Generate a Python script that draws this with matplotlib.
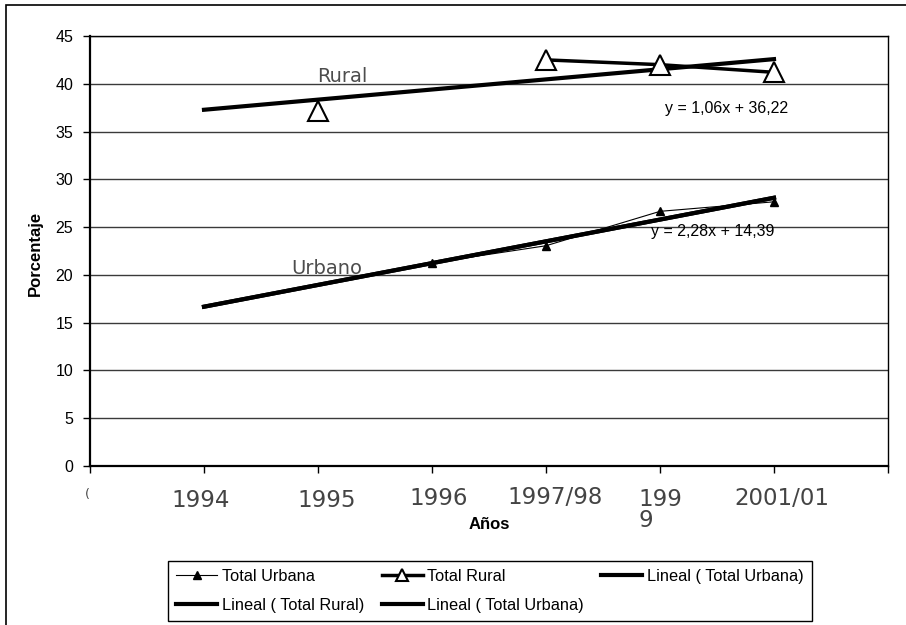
import numpy as np
import matplotlib.pyplot as plt
from matplotlib.patches import Rectangle
from matplotlib.transforms import ScaledTranslation

plt.rcParams['font.family'] = ['Liberation Sans', 'DejaVu Sans']

# data (category positions 1..6)
years = ['1994', '1995', '1996', '1997/98', '199\n9', '2001/01']
total_urbana = [np.nan, np.nan, 21.25, 23.05, 26.65, 27.65]
total_rural = [np.nan, 37.2, np.nan, 42.5, 42.0, 41.2]
eq_rural = 'y = 1,06x + 36,22'
eq_urbana = 'y = 2,28x + 14,39'
y_ticks = [0, 5, 10, 15, 20, 25, 30, 35, 40, 45]


def trend(values):
    """Linear trend over the category positions, like the spreadsheet does"""
    xs = np.arange(1, len(values) + 1)
    v = np.array(values, dtype=float)
    ok = ~np.isnan(v)
    m, b = np.polyfit(xs[ok], v[ok], 1)
    return xs, m * xs + b


fig = plt.figure(figsize=(9.06, 6.25), dpi=100)
ax = fig.add_axes([90 / 906, 159 / 625, 798 / 906, 430 / 625])

# outer frame (only left and top edges visible)
fig.add_artist(Rectangle((6 / 906, -0.5), 2, 0.5 + 620 / 625, fill=False,
                         transform=fig.transFigure, lw=1.2, ec='black'))

x = np.arange(1, len(years) + 1)

for yv in y_ticks[1:]:
    ax.axhline(yv, color='#3a3a3a', lw=1.0, zorder=1)

l_urb, = ax.plot(x, total_urbana, 'k-', lw=0.8, marker='^', ms=6,
                 mfc='black', mec='black', zorder=4, label='Total Urbana')
l_rur, = ax.plot(x, total_rural, 'k-', lw=2.5, marker='^', ms=14,
                 mfc='white', mec='black', mew=1.5, zorder=4, label='Total Rural')

tx, ty = trend(total_urbana)
t_urb, = ax.plot(tx, ty, 'k-', lw=3, zorder=3, label='Lineal ( Total Urbana)')
t_urb2, = ax.plot(tx, ty, 'k-', lw=3, zorder=3, label='Lineal ( Total Urbana)')
tx, ty = trend(total_rural)
t_rur, = ax.plot(tx, ty, 'k-', lw=3, zorder=3, label='Lineal ( Total Rural)')

ax.text(2.21, 40.18, 'Rural', family='DejaVu Sans', fontsize=14,
        color='#4d4d4d', ha='center', va='baseline')
ax.text(2.08, 20.09, 'Urbano', family='DejaVu Sans', fontsize=14,
        color='#4d4d4d', ha='center', va='baseline')
ax.text(5.58, 36.97, eq_rural, fontsize=11.5, ha='center', va='baseline')
ax.text(5.46, 24.07, eq_urbana, fontsize=11.5, ha='center', va='baseline', zorder=2)

ax.set_xlim(0, 7)
ax.set_ylim(0, 45)
ax.set_yticks(y_ticks)
ax.tick_params(axis='y', labelsize=11.5, length=5, width=1, pad=7)
ax.set_xticks(np.arange(0, len(years) + 2))
ax.set_xticklabels(['('] + years + [''], family='DejaVu Sans', fontsize=16.5,
                   color='#444444')
ax.tick_params(axis='x', length=5, width=1, pad=11)

# small shifts of the category labels (pixels)
label_shift = [(-3, 0), (-3, -1), (9, -1), (7, 1), (9, 2), (0, 0), (8, 1), (0, 0)]
labels = ax.get_xticklabels()
labels[0].set_fontsize(9)
labels[5].set_multialignment('left')
labels[5].set_linespacing(0.85)
for lab, (dx, dy) in zip(labels, label_shift):
    lab.set_transform(lab.get_transform() +
                      ScaledTranslation(dx / 100, dy / 100, fig.dpi_scale_trans))

for side in ['left', 'bottom']:
    ax.spines[side].set_linewidth(1.6)
for side in ['top', 'right']:
    ax.spines[side].set_linewidth(1.0)

ax.set_ylabel('Porcentaje', fontsize=12, fontweight='bold')
ax.yaxis.set_label_coords(-0.059, 0.495)
ax.set_xlabel('Años', fontsize=12, fontweight='bold', va='top')
ax.xaxis.set_label_coords(0.5, -0.1186)

# column-major order so rows read: TU, TR, LTU / LTR, LTU
leg = ax.legend([l_urb, t_rur, l_rur, t_urb2, t_urb],
                ['Total Urbana', 'Lineal ( Total Rural)', 'Total Rural',
                 'Lineal ( Total Urbana)', 'Lineal ( Total Urbana)'],
                ncol=3, loc='lower left', bbox_to_anchor=(168 / 906, 4 / 625),
                bbox_transform=fig.transFigure, fontsize=11.8,
                frameon=True, fancybox=False, edgecolor='black', framealpha=1,
                handlelength=2.5, handletextpad=0.3, columnspacing=1.05,
                borderpad=0.5, labelspacing=0.85, borderaxespad=0)
leg.get_frame().set_linewidth(1.0)
leg.legend_handles[2].set_markersize(9)

plt.savefig('out.png', dpi=100)
